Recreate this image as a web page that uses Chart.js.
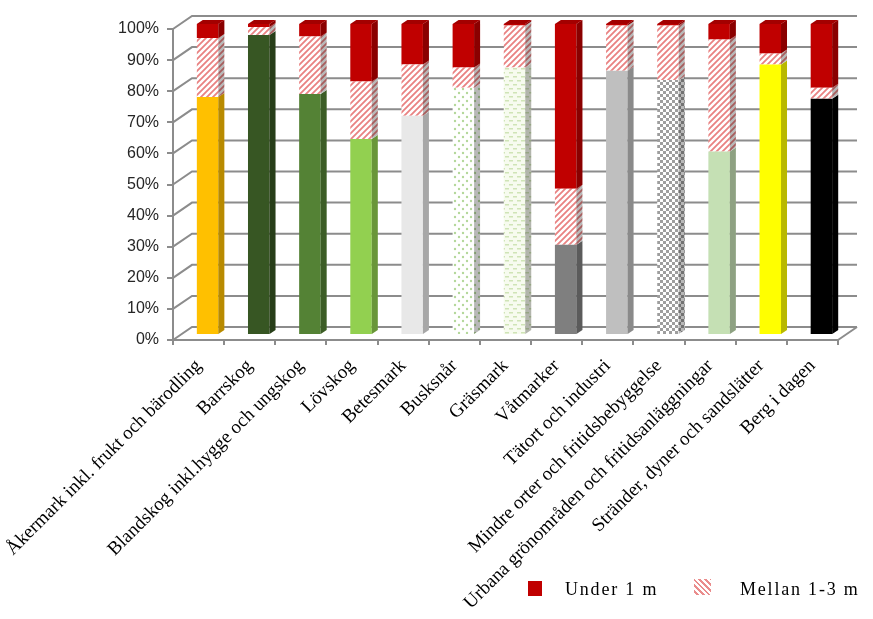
<!DOCTYPE html>
<html lang="sv">
<head>
<meta charset="utf-8">
<title>Andel markslag under 1 m och mellan 1-3 m</title>
<script src="https://cdn.jsdelivr.net/npm/chart.js@4.4.1/dist/chart.umd.min.js"></script>
<style>
  html, body { margin: 0; padding: 0; background: #ffffff; }
  #wrap { position: relative; width: 873px; height: 619px; }
  #legend { position: absolute; left: 0; top: 0; width: 873px; height: 619px; pointer-events: none;
            font-family: 'Liberation Serif', 'Times New Roman', serif; font-size: 18px; letter-spacing: 1.8px; color: #000; }
  .lg-box { position: absolute; }
  .lg-text { position: absolute; line-height: 20px; }
</style>
</head>
<body>
<div id="wrap">
  <canvas id="landChart" width="873" height="619"></canvas>
  <div id="legend"></div>
</div>
<script>
'use strict';

/* ═══════════════════════════════════════════════════════════
 *  DATA  (percent of each land cover class)
 * ═══════════════════════════════════════════════════════════ */
const categories = [
  'Åkermark inkl. frukt och bärodling',
  'Barrskog',
  'Blandskog inkl.hygge och ungskog',
  'Lövskog',
  'Betesmark',
  'Busksnår',
  'Gräsmark',
  'Våtmarker',
  'Tätort och industri',
  'Mindre orter och fritidsbebyggelse',
  'Urbana grönområden och fritidsanläggningar',
  'Stränder, dyner och sandslätter',
  'Berg i dagen',
];
const overThree  = [76.5, 96.5, 77.5, 63.0, 70.5, 79.5, 86.0, 29.0, 85.0, 82.0, 59.0, 87.0, 76.0];
const between13  = [19.0,  2.5, 18.5, 18.5, 16.5,  6.5, 13.5, 18.0, 14.5, 17.5, 36.0,  3.5,  3.5];
const underOne   = [ 4.5,  1.0,  4.0, 18.5, 13.0, 14.0,  0.5, 53.0,  0.5,  0.5,  5.0,  9.5, 20.5];
const yTicks     = [0, 10, 20, 30, 40, 50, 60, 70, 80, 90, 100];

const seriesNames = ['Under 1 m', 'Mellan 1-3 m'];

/* ═══════════════════════════════════════════════════════════
 *  FILL PATTERNS
 * ═══════════════════════════════════════════════════════════ */
function makePattern(size, paint) {
  const c = document.createElement('canvas');
  c.width = size; c.height = size;
  const g = c.getContext('2d');
  paint(g, size);
  return g.createPattern(c, 'repeat');
}

const hatch = makePattern(6, (g, s) => {
  g.fillStyle = '#ffffff'; g.fillRect(0, 0, s, s);
  g.strokeStyle = '#e98282'; g.lineWidth = 1.8;
  g.beginPath();
  g.moveTo(-1, s + 1); g.lineTo(s + 1, -1);
  g.moveTo(-1, 1);     g.lineTo(1, -1);
  g.moveTo(s - 1, s + 1); g.lineTo(s + 1, s - 1);
  g.stroke();
});
const dots = makePattern(8, (g, s) => {
  g.fillStyle = '#ffffff'; g.fillRect(0, 0, s, s);
  g.fillStyle = '#b4d89a';
  g.beginPath(); g.arc(2, 2, 1.2, 0, Math.PI * 2); g.fill();
  g.beginPath(); g.arc(6, 6, 1.2, 0, Math.PI * 2); g.fill();
});
const dashes = makePattern(8, (g, s) => {
  g.fillStyle = '#f7fbef'; g.fillRect(0, 0, s, s);
  g.fillStyle = '#cfe4b6';
  g.fillRect(0, 1, 4, 1.5);
  g.fillRect(4, 5, 4, 1.5);
});
const checker = makePattern(6, (g, s) => {
  g.fillStyle = '#ffffff'; g.fillRect(0, 0, s, s);
  g.fillStyle = '#9e9e9e';
  g.fillRect(0, 0, 3, 3);
  g.fillRect(3, 3, 3, 3);
});

const baseFills = [
  '#ffc000', '#375623', '#548235', '#92d050', '#e8e8e8', dots, dashes,
  '#7f7f7f', '#bfbfbf', checker, '#c5e0b4', '#ffff00', '#000000',
];

/* ═══════════════════════════════════════════════════════════
 *  3D LOOK: walls, floor and bar sides
 * ═══════════════════════════════════════════════════════════ */
const WALL_DX = 19, WALL_DY = -13;   // depth of the plot box
const BAR_DX = 9,  BAR_DY = -5;      // bars sit in the middle of the depth
const SIDE_DX = 6, SIDE_DY = -4;     // depth of each bar

function face(ctx, pts, fill, shade) {
  ctx.beginPath();
  ctx.moveTo(pts[0][0], pts[0][1]);
  for (let i = 1; i < pts.length; i++) ctx.lineTo(pts[i][0], pts[i][1]);
  ctx.closePath();
  ctx.fillStyle = fill;
  ctx.fill();
  ctx.fillStyle = shade;
  ctx.fill();
}

const box3d = {
  id: 'box3d',
  beforeDatasetsDraw(chart) {
    const { ctx, chartArea: a, scales } = chart;
    ctx.save();
    ctx.strokeStyle = '#8c8c8c';
    ctx.lineWidth = 2;
    yTicks.forEach((v) => {
      const y = scales.y.getPixelForValue(v);
      ctx.beginPath();
      ctx.moveTo(a.left, y);
      ctx.lineTo(a.left + WALL_DX, y + WALL_DY);
      ctx.lineTo(a.right + WALL_DX, y + WALL_DY);
      ctx.stroke();
    });
    ctx.beginPath();
    ctx.moveTo(a.right, a.bottom);
    ctx.lineTo(a.right + WALL_DX, a.bottom + WALL_DY);
    ctx.stroke();
    ctx.restore();

    ctx.save();
    ctx.translate(BAR_DX, BAR_DY);
  },
  afterDatasetsDraw(chart) {
    const { ctx } = chart;
    const metas = chart.getSortedVisibleDatasetMetas();
    categories.forEach((_, i) => {
      metas.forEach((meta, k) => {
        const bar = meta.data[i];
        if (!bar) return;
        const p = bar.getProps(['x', 'y', 'base', 'width'], true);
        const r = p.x + p.width / 2, l = p.x - p.width / 2;
        const top = Math.min(p.y, p.base), bot = Math.max(p.y, p.base);
        const fill = chart.data.datasets[meta.index].backgroundColor[i];
        face(ctx, [[r, top], [r + SIDE_DX, top + SIDE_DY], [r + SIDE_DX, bot + SIDE_DY], [r, bot]], fill, 'rgba(0,0,0,0.28)');
        if (k === metas.length - 1) {
          face(ctx, [[l, top], [l + SIDE_DX, top + SIDE_DY], [r + SIDE_DX, top + SIDE_DY], [r, top]], fill, 'rgba(0,0,0,0.15)');
        }
      });
    });
    ctx.restore();
  },
};

/* ═══════════════════════════════════════════════════════════
 *  CHART
 * ═══════════════════════════════════════════════════════════ */
const red = '#c00000';

new Chart(document.getElementById('landChart'), {
  type: 'bar',
  data: {
    labels: categories,
    datasets: [
      { label: 'Över 3 m',     data: overThree, backgroundColor: baseFills },
      { label: seriesNames[1], data: between13, backgroundColor: categories.map(() => hatch) },
      { label: seriesNames[0], data: underOne,  backgroundColor: categories.map(() => red) },
    ],
  },
  options: {
    responsive: false,
    animation: false,
    layout: { padding: { top: 29, right: 35, left: 0, bottom: 0 } },
    datasets: { bar: { barPercentage: 0.42, categoryPercentage: 1 } },
    plugins: { legend: { display: false }, tooltip: { enabled: false } },
    scales: {
      x: {
        stacked: true,
        grid: { drawOnChartArea: false, drawTicks: true, tickLength: 5, color: '#8c8c8c', lineWidth: 2 },
        border: { color: '#8c8c8c', width: 2 },
        ticks: {
          autoSkip: false, minRotation: 45, maxRotation: 45, padding: 10, color: '#000',
          font: { family: "'Liberation Serif', 'Times New Roman', serif", size: 19 },
        },
        afterFit: (s) => { s.height = 619 - 340; s.paddingLeft = 0; s.paddingRight = 0; },
      },
      y: {
        stacked: true,
        min: 0, max: 100,
        grid: { drawOnChartArea: false, drawTicks: true, tickLength: 6, color: '#8c8c8c', lineWidth: 2 },
        border: { color: '#8c8c8c', width: 2 },
        ticks: {
          stepSize: 10, padding: 8, color: '#262626',
          font: { family: "'Liberation Sans', Arial, sans-serif", size: 16 },
          callback: (v) => v + '%',
        },
        afterFit: (s) => { s.width = 173; },
      },
    },
  },
  plugins: [box3d],
});

/* ═══════════════════════════════════════════════════════════
 *  LEGEND  (only the two depth classes, as in the original)
 * ═══════════════════════════════════════════════════════════ */
const legend = document.getElementById('legend');
legend.innerHTML =
  '<div class="lg-box" style="left:528px;top:581px;width:14px;height:15px;background:' + red + '"></div>' +
  '<div class="lg-text" style="left:565px;top:579px">' + seriesNames[0] + '</div>' +
  '<div class="lg-box" style="left:694px;top:579px;width:17px;height:16px;' +
  'background:repeating-linear-gradient(45deg,#ffffff 0 2px,#ea8c8c 2px 4px)"></div>' +
  '<div class="lg-text" style="left:740px;top:579px">' + seriesNames[1] + '</div>';
</script>
</body>
</html>
